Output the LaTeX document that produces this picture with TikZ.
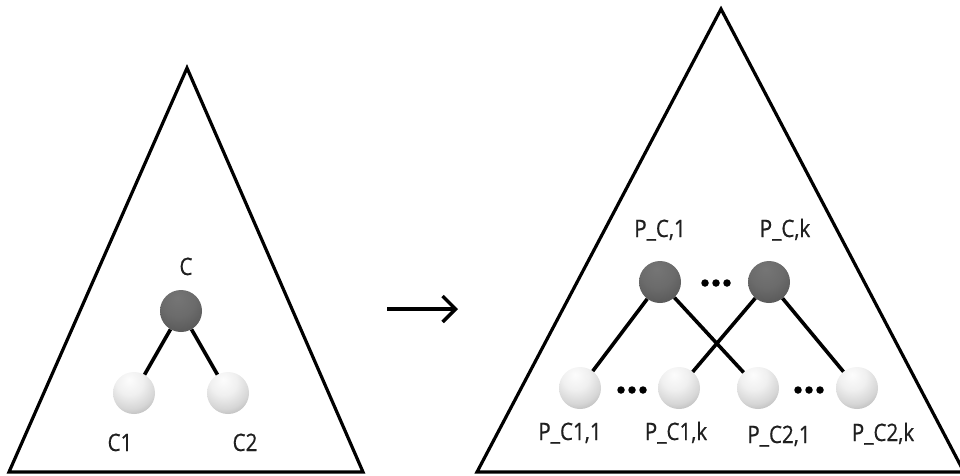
\documentclass[tikz,border=0pt]{standalone}
\usepackage{fontspec}
\setmainfont{Open Sans}[FakeStretch=0.86,FakeBold=0.6]
\usetikzlibrary{arrows.meta}
\pgfdeclareradialshading{lightball}{\pgfpoint{-6bp}{16bp}}{%
  rgb(0bp)=(0.99,0.99,0.99);
  rgb(16bp)=(0.94,0.94,0.94);
  rgb(30bp)=(0.84,0.84,0.84);
  rgb(44bp)=(0.66,0.66,0.66);
  rgb(58bp)=(0.46,0.46,0.46);
  rgb(100bp)=(0.46,0.46,0.46)}
\pgfdeclareradialshading{darkball}{\pgfpoint{-4bp}{16bp}}{%
  rgb(0bp)=(0.46,0.46,0.46);
  rgb(20bp)=(0.42,0.42,0.42);
  rgb(36bp)=(0.35,0.35,0.35);
  rgb(50bp)=(0.27,0.27,0.27);
  rgb(62bp)=(0.20,0.20,0.20);
  rgb(100bp)=(0.20,0.20,0.20)}
\tikzset{
  tri/.style={line width=3.2pt, line join=miter},
  lightnode/.style={circle, minimum size=42pt, inner sep=0pt, shading=lightball},
  darknode/.style={circle, minimum size=42pt, inner sep=0pt, shading=darkball},
  edge/.style={line width=3.6pt},
  lbl/.style={font=\fontsize{24}{28}\selectfont, text=black!88, anchor=base, inner sep=0pt},
  dot/.style={circle, fill=black, minimum size=7.5pt, inner sep=0pt},
}
\begin{document}
\begin{tikzpicture}[x=1pt, y=-1pt]
\useasboundingbox (0,0) rectangle (960,475);
% triangles
\draw[tri] (187,68) -- (363,472) -- (9,472) -- cycle;
\draw[tri] (721,9) -- (964,472) -- (477,472) -- cycle;
% left tree
\node[darknode] (c) at (181,311) {};
\node[lightnode] (c1) at (134,393) {};
\node[lightnode] (c2) at (228,393) {};
\draw[edge] (c) -- (c1);
\draw[edge] (c) -- (c2);
\node[lbl] (lc) at (186,275) {C};
\node[lbl] (lc1) at (120,451) {C1};
\node[lbl] (lc2) at (245,451) {C2};
% arrow
\coordinate (a1) at (387,309);
\coordinate (a2) at (458,309);
\draw[line width=3.4pt, -{Straight Barb[length=13pt,width=26pt,line width=3.4pt]}] (a1) -- (a2);
% right tree
\node[darknode] (p1) at (660,282) {};
\node[darknode] (pk) at (769,282) {};
\node[lightnode] (q11) at (580,388) {};
\node[lightnode] (q1k) at (679,388) {};
\node[lightnode] (q21) at (758,388) {};
\node[lightnode] (q2k) at (857,388) {};
\draw[edge] (p1) -- (q11);
\draw[edge] (p1) -- (q21);
\draw[edge] (pk) -- (q1k);
\draw[edge] (pk) -- (q2k);
% dots
\foreach \x [count=\i] in {705,716,727} {\node[dot] (d1\i) at (\x,283) {};}
\foreach \x [count=\i] in {621,632,643} {\node[dot] (d2\i) at (\x,390) {};}
\foreach \x [count=\i] in {798,809,820} {\node[dot] (d3\i) at (\x,390) {};}
% labels
\node[lbl] (lp1) at (660,237) {P\_C,1};
\node[lbl] (lpk) at (785,237) {P\_C,k};
\node[lbl] (l11) at (570,440) {P\_C1,1};
\node[lbl] (l1k) at (676,440) {P\_C1,k};
\node[lbl] (l21) at (779,443) {P\_C2,1};
\node[lbl] (l2k) at (883,441) {P\_C2,k};
\end{tikzpicture}
\end{document}
